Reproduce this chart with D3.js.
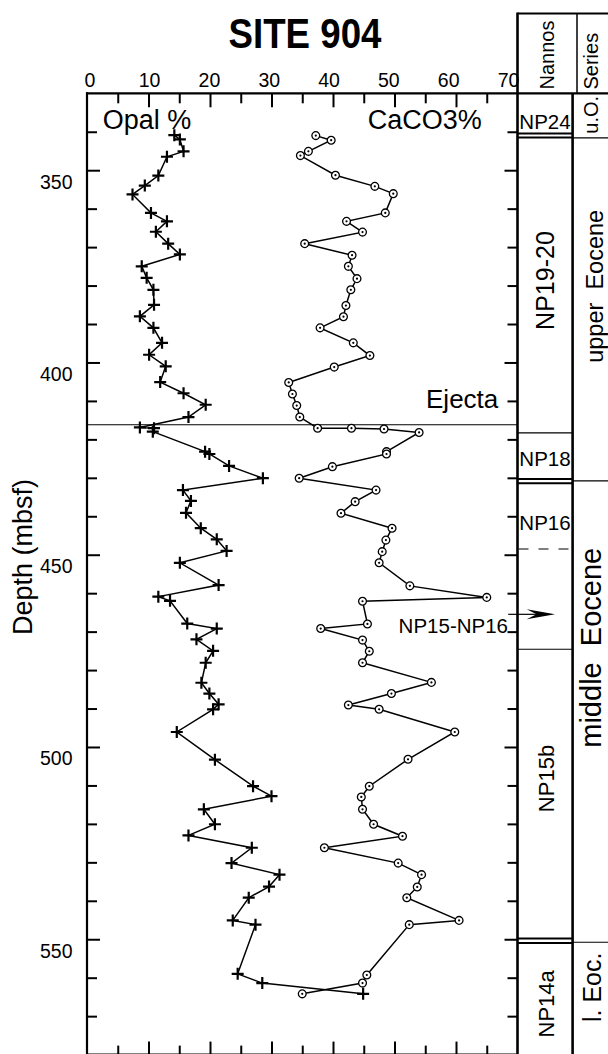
<!DOCTYPE html>
<html><head><meta charset="utf-8">
<script src="https://cdn.jsdelivr.net/npm/d3@7"></script>
<style>
body{margin:0;background:#fff}
svg{display:block}
text{font-family:"Liberation Sans",Arial,Helvetica,sans-serif;fill:#000}
</style>
</head><body>
<svg id="c" width="608" height="1054"></svg>
<script>
// ---------------- DATA ----------------
const opalDepth = [340.9,342.0,345.1,346.5,351.4,354.0,356.3,361.1,363.3,366.0,369.1,371.9,375.0,378.0,381.1,385.0,388.0,391.0,394.9,398.0,401.0,405.1,408.0,411.0,414.2,416.9,417.1,418.0,423.2,423.8,426.9,430.1,433.2,436.0,439.1,443.1,446.0,449.0,452.1,457.9,460.9,462.0,467.9,469.2,472.0,475.0,478.1,483.3,486.1,488.9,490.2,496.1,503.3,510.2,512.8,516.2,520.1,523.0,526.2,530.2,533.2,536.3,539.2,545.1,546.2,559.0,561.4,564.2];
const opalValue = [14.2,15.1,15.7,13.0,11.6,9.4,7.4,10.4,13.0,11.2,13.2,15.1,8.9,9.7,10.8,10.9,8.6,10.8,12.2,10.1,12.8,11.9,15.7,19.3,16.5,8.6,10.9,10.7,19.2,19.9,23.1,28.6,15.6,16.9,16.1,18.5,21.1,22.7,15.1,21.4,11.6,13.5,16.3,21.1,17.8,20.5,19.3,18.6,19.9,21.4,20.5,14.6,20.8,27.0,30.0,19.0,20.8,16.5,26.8,23.5,31.3,29.6,26.3,23.7,27.4,24.5,28.5,44.9];

const caco3Depth = [341.0,342.2,345.1,346.2,351.3,354.2,356.1,361.1,363.3,366.1,369.1,372.1,375.0,378.2,381.1,385.2,388.1,391.0,394.9,398.2,401.2,405.2,408.2,411.2,414.2,417.1,417.1,417.3,418.2,423.2,423.8,427.1,430.1,433.2,436.2,439.2,443.1,446.2,449.2,452.1,458.1,461.1,462.1,468.0,469.2,472.2,475.1,478.1,483.2,486.1,489.1,490.2,496.1,503.2,510.2,513.0,516.2,520.1,523.2,526.2,530.2,533.2,536.4,539.2,545.1,546.2,559.3,561.4,564.2];
const caco3Value = [37.2,39.7,36.0,34.7,40.4,46.8,49.8,48.5,42.2,44.8,35.4,43.1,42.5,43.9,42.9,42.1,41.7,37.9,43.3,46.0,40.2,32.8,33.4,34.1,34.6,37.5,43.0,48.3,54.0,48.7,48.7,39.9,34.5,47.0,43.6,41.3,49.6,48.6,48.0,47.5,52.5,65.0,44.8,45.6,38.0,44.8,45.9,44.8,56.0,49.5,42.5,47.5,59.8,52.2,45.9,44.6,44.8,46.6,51.3,38.6,50.6,54.4,53.7,52.0,60.5,52.4,45.5,44.8,35.0];

const percentTicks = [0,10,20,30,40,50,60,70];
const percentMinor = [5,15,25,35,45,55,65];
const depthLabels = [350,400,450,500,550];
const depthMinor = [340,360,370,380,390,410,420,430,440,460,470,480,490,510,520,530,540,560,570];

const nannoBoundariesDouble = [[340.45,341.5],[430.3,431.4],[549.8,551.0]];
const nannoBoundariesSingle = [418.3,474.6];
const nannoBoundaryDashed = [448.5];
const nannoArrowDepth = 465.5;
const ejectaDepth = 416.2;
const seriesBoundaries = [341.6,430.8,550.8];
const nannoZonesH = [["NP24",339.2],["NP18",427.0],["NP16",443.6]];
const nannoZonesV = [["NP19-20",378.7,25],["NP15b",508.2,22],["NP14a",566.8,22]];
const seriesZones = [["u.O.",335.6,20],["upper  Eocene",380.2,23.5],["middle  Eocene",474.2,29],["l. Eoc.",562.5,25]];

// ---------------- CHART ----------------
const svg = d3.select("#c");
const FONT = '"Liberation Sans", Arial, Helvetica, sans-serif';
const x = d3.scaleLinear().domain([0,70]).range([87,517.5]);
const xLabel = d3.scaleLinear().domain([0,70]).range([89.3,508]);
const y = d3.scaleLinear().domain([330,580]).range([93.3,1054.6]);

const plotL = x(0), plotR = x(70), plotT = y(330), plotB = y(580);
const colL = plotR, colM = 572.6, colR = 608;
const headT = 13.5, headSep = 577;

function clean(g, sw){
  g.select(".domain").remove();
  g.selectAll("line").attr("stroke","#000").attr("stroke-width",sw||2);
  g.attr("font-family",FONT);
}

svg.append("g").attr("transform",`translate(0,${plotT})`)
  .call(d3.axisBottom(x).tickValues([10,20,30,40,50,60]).tickSize(14).tickFormat(""))
  .call(clean);
svg.append("g").attr("transform",`translate(0,${plotT})`)
  .call(d3.axisBottom(x).tickValues(percentMinor).tickSize(10).tickFormat(""))
  .call(clean);
svg.append("g").attr("transform",`translate(0,${plotB})`)
  .call(d3.axisTop(x).tickValues([10,20,30,40,50,60]).tickSize(13).tickFormat(""))
  .call(clean);
svg.append("g").attr("transform",`translate(0,${plotB})`)
  .call(d3.axisTop(x).tickValues(percentMinor).tickSize(9).tickFormat(""))
  .call(clean);
const gtl = svg.append("g").attr("transform",`translate(0,${plotT})`)
  .call(d3.axisTop(xLabel).tickValues(percentTicks).tickSize(0).tickPadding(6.6).tickFormat(d3.format("d")))
  .call(clean);
gtl.selectAll("text").attr("font-size",19.5).attr("fill","#000");

svg.append("g").attr("transform",`translate(${plotL},0)`)
  .call(d3.axisRight(y).tickValues(depthLabels).tickSize(13).tickFormat(""))
  .call(clean);
svg.append("g").attr("transform",`translate(${plotL},0)`)
  .call(d3.axisRight(y).tickValues(depthMinor).tickSize(10).tickFormat(""))
  .call(clean);
svg.append("g").attr("transform",`translate(${plotR},0)`)
  .call(d3.axisLeft(y).tickValues(depthLabels).tickSize(13).tickFormat(""))
  .call(clean);
svg.append("g").attr("transform",`translate(${plotR},0)`)
  .call(d3.axisLeft(y).tickValues(depthMinor).tickSize(10).tickFormat(""))
  .call(clean);
const gll = svg.append("g").attr("transform",`translate(${plotL},0)`)
  .call(d3.axisLeft(y).tickValues(depthLabels).tickSize(0).tickPadding(14.5).tickFormat(d3.format("d")))
  .call(clean);
gll.selectAll("text").attr("font-size",19.5).attr("dy",17.8).attr("fill","#000");

const frame = svg.append("g").attr("stroke","#000").attr("fill","none");
frame.append("line").attr("x1",plotL).attr("x2",plotL).attr("y1",plotT-1).attr("y2",plotB).attr("stroke-width",2.2);
frame.append("line").attr("x1",plotL-1).attr("x2",colR).attr("y1",plotT).attr("y2",plotT).attr("stroke-width",2.2);
frame.append("line").attr("x1",plotL).attr("x2",plotR).attr("y1",plotB).attr("y2",plotB).attr("stroke-width",2);
frame.append("line").attr("x1",colL).attr("x2",colL).attr("y1",headT-1).attr("y2",plotB).attr("stroke-width",2.6);
frame.append("line").attr("x1",colL).attr("x2",colR).attr("y1",headT).attr("y2",headT).attr("stroke-width",2.2);
frame.append("line").attr("x1",headSep).attr("x2",headSep).attr("y1",headT).attr("y2",plotT).attr("stroke-width",1.5);
frame.append("line").attr("x1",colM).attr("x2",colM).attr("y1",plotT).attr("y2",plotB).attr("stroke-width",2.6);

svg.append("line").attr("x1",plotL).attr("x2",plotR).attr("y1",y(ejectaDepth)).attr("y2",y(ejectaDepth))
  .attr("stroke","#000").attr("stroke-width",1.1);

const nb = svg.append("g").attr("stroke","#000");
nannoBoundariesDouble.forEach(pair=>pair.forEach(d=>{
  nb.append("line").attr("x1",colL).attr("x2",colM).attr("y1",y(d)).attr("y2",y(d)).attr("stroke-width",2);
}));
nannoBoundariesSingle.forEach(d=>{
  nb.append("line").attr("x1",colL).attr("x2",colM).attr("y1",y(d)).attr("y2",y(d)).attr("stroke-width",1.1);
});
nannoBoundaryDashed.forEach(d=>{
  nb.append("line").attr("x1",colL+1).attr("x2",colM).attr("y1",y(d)).attr("y2",y(d))
    .attr("stroke-width",1.1).attr("stroke-dasharray","10,10");
});
seriesBoundaries.forEach(d=>{
  nb.append("line").attr("x1",colM).attr("x2",colR).attr("y1",y(d)).attr("y2",y(d)).attr("stroke-width",1.1);
});
const ay = y(nannoArrowDepth);
nb.append("line").attr("x1",508.3).attr("x2",540).attr("y1",ay).attr("y2",ay).attr("stroke-width",1.2);
svg.append("path").attr("d",`M555,${ay}L526.7,${ay-5}L536.5,${ay}L526.7,${ay+5}Z`).attr("fill","#000");

const opal = d3.zip(opalDepth, opalValue).map(([d,v])=>({d,v}));
const caco3 = d3.zip(caco3Depth, caco3Value).map(([d,v])=>({d,v}));
const line = d3.line().x(p=>x(p.v)).y(p=>y(p.d));
svg.append("path").datum(opal).attr("d",line).attr("fill","none").attr("stroke","#000").attr("stroke-width",1.5);
svg.append("path").datum(caco3).attr("d",line).attr("fill","none").attr("stroke","#000").attr("stroke-width",1.5);

svg.append("g").selectAll("path").data(opal).join("path")
  .attr("transform",p=>`translate(${x(p.v)},${y(p.d)})`)
  .attr("d","M-6,0H6M0,-6V6").attr("stroke","#000").attr("stroke-width",2.2).attr("fill","none");
const cg = svg.append("g").selectAll("g").data(caco3).join("g")
  .attr("transform",p=>`translate(${x(p.v)},${y(p.d)})`);
cg.append("circle").attr("r",3.9).attr("fill","#fff").attr("stroke","#000").attr("stroke-width",1.3);
cg.append("circle").attr("r",1.1).attr("fill","#000");

function htext(str, xx, yy, fs, anchor, weight){
  return svg.append("text").attr("x",xx).attr("y",yy).attr("font-size",fs)
    .attr("text-anchor",anchor||"start").attr("font-weight",weight||"normal").text(str);
}
function vtext(str, xx, yy, fs, anchor){
  return svg.append("text").attr("transform",`translate(${xx},${yy}) rotate(-90)`)
    .attr("font-size",fs).attr("text-anchor",anchor||"middle").style("white-space","pre").text(str);
}
svg.append("text").attr("transform","translate(305,48.4) scale(0.874,1)")
  .attr("font-size",42).attr("font-weight","bold").attr("text-anchor","middle").text("SITE 904");

htext("Opal %",102.7,129.3,27,"start");
htext("CaCO3%",481.7,129.3,27,"end");
htext("Ejecta",498.3,408.3,26,"end");
htext("NP15-NP16",508,632.7,20.5,"end");

vtext("Depth (mbsf)",32,557,27,"middle");
vtext("Nannos",554,89.5,20,"start");
vtext("Series",598,89.5,20,"start");

nannoZonesH.forEach(([s,d])=>htext(s,545,y(d),20.5,"middle"));
nannoZonesV.forEach(([s,d,fs])=>vtext(s,554,y(d),fs,"middle"));
seriesZones.forEach(([s,d,fs])=>vtext(s, s==="upper  Eocene"?602.5:(s==="u.O."?598:601), y(d), fs, "middle"));
</script>
</body></html>
